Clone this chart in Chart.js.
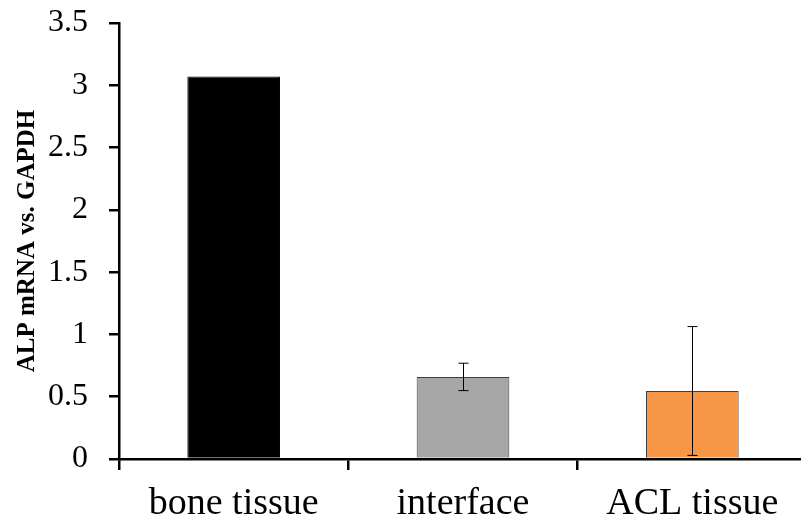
<!DOCTYPE html>
<html>
<head>
<meta charset="utf-8">
<script src="https://cdn.jsdelivr.net/npm/chart.js@4"></script>
<style>
  html, body { margin: 0; padding: 0; background: #fff; overflow: hidden; }
  #wrap { width: 807px; height: 521px; }
</style>
</head>
<body>
<div id="wrap"><canvas id="Barchart"></canvas></div>
<script>
// values
let categories = ["bone tissue", "interface", "ACL tissue"];
let alpValues = [3.07, 0.659, 0.546];
let alpErrors = [0, 0.11, 0.517];
let barColors = ["#000000", "#a6a6a6", "#f79646"];
let barBorders = ["#000000", "#3f3f3f", "#3f3f3f"];
let yTicks = [0, 0.5, 1, 1.5, 2, 2.5, 3, 3.5];

// simple error bar plugin, positions come from the chart scales
let errorBars = {
    id: "errorBars",
    afterDatasetsDraw(chart) {
        let ctx = chart.ctx;
        let meta = chart.getDatasetMeta(0);
        let yScale = chart.scales.y;
        ctx.save();
        ctx.strokeStyle = "#000";
        ctx.lineWidth = 1;
        for (let j = 0; j < alpValues.length; j++) {
            let err = alpErrors[j];
            if (!err) continue;
            let x = Math.round(meta.data[j].x) + 0.5;
            let yTop = yScale.getPixelForValue(alpValues[j] + err);
            let yBot = yScale.getPixelForValue(alpValues[j] - err);
            ctx.beginPath();
            ctx.moveTo(x, yTop);
            ctx.lineTo(x, yBot);
            ctx.moveTo(x - 5, yTop);
            ctx.lineTo(x + 5, yTop);
            ctx.moveTo(x - 5, yBot);
            ctx.lineTo(x + 5, yBot);
            ctx.stroke();
        }
        ctx.restore();
    }
};

let xAC = document.getElementById("Barchart");
new Chart(xAC, {
    type: "bar",
    data: {
        labels: categories,
        datasets: [{
            data: alpValues,
            backgroundColor: barColors,
            borderColor: barBorders,
            borderWidth: 1,
            barPercentage: 0.404,
            categoryPercentage: 1
        }]
    },
    options: {
        responsive: true,
        maintainAspectRatio: false,
        animation: false,
        devicePixelRatio: 1,
        layout: { autoPadding: false, padding: { top: 23, right: 0, bottom: 0, left: 0 } },
        plugins: {
            legend: { display: false },
            tooltip: { enabled: false }
        },
        scales: {
            x: {
                afterFit(scale) { scale.height = 62; },
                grid: {
                    drawOnChartArea: false,
                    drawTicks: true,
                    tickLength: 11,
                    color: "#000",
                    lineWidth: 2.5
                },
                border: { display: true, color: "#000", width: 2.5 },
                ticks: {
                    color: "#000",
                    padding: 11,
                    font: { family: "Liberation Serif", size: 38, lineHeight: 1.2 }
                }
            },
            y: {
                min: 0,
                max: 3.5,
                afterFit(scale) {
                    scale.width = 119;
                    scale.paddingTop = 0;
                    scale.paddingBottom = 0;
                },
                afterBuildTicks(scale) {
                    scale.ticks = yTicks.map(v => ({ value: v }));
                },
                grid: {
                    drawOnChartArea: false,
                    drawTicks: true,
                    tickLength: 10,
                    color: "#000",
                    lineWidth: 2.5
                },
                border: { display: true, color: "#000", width: 2.5 },
                ticks: {
                    color: "#000",
                    padding: 21,
                    font: { family: "Liberation Serif", size: 32 },
                    callback: v => String(v)
                },
                title: {
                    display: true,
                    text: "ALP mRNA vs. GAPDH",
                    color: "#000",
                    padding: { top: 13, bottom: 0 },
                    font: { family: "Liberation Serif", size: 25, weight: "bold" }
                }
            }
        }
    },
    plugins: [errorBars]
});
</script>
</body>
</html>
